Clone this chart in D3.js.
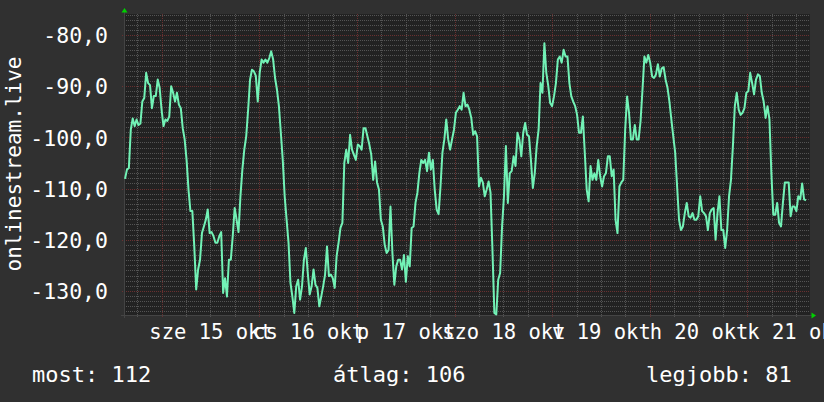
<!DOCTYPE html>
<html><head><meta charset="utf-8">
<script src="https://cdn.jsdelivr.net/npm/d3@7"></script>
<style>html,body{margin:0;padding:0;background:#303030;}svg{display:block}</style>
</head><body>
<svg id="chart" width="824" height="402"></svg>
<script>
const axisTitle = "onlinestream.live";
const yTickValues = [-80, -90, -100, -110, -120, -130];
const dayLabels = ["sze 15 okt", "cs 16 okt", "p 17 okt", "szo 18 okt", "v 19 okt", "h 20 okt", "k 21 okt"];
const dayNoons = ["2025-10-15T12:00", "2025-10-16T12:00", "2025-10-17T12:00", "2025-10-18T12:00", "2025-10-19T12:00", "2025-10-20T12:00", "2025-10-21T12:00"];
const legendTexts = ["most: 112", "átlag: 106", "legjobb: 81"];
const viewRange = ["2025-10-14T14:44", "2025-10-21T15:24"];
const dataRange = ["2025-10-14T14:59", "2025-10-21T14:25"];
const valueRange = [-134.7, -75.9];
const values = [
-108.1,-106.3,-106,-98.5,-96.3,-97.8,-96.5,-97.6,-97.3,-93,
-92.3,-87.4,-89.4,-89.8,-94.3,-91.9,-91.9,-88.7,-90.3,-94.6,
-97.8,-96.5,-96.8,-95.9,-90,-91.3,-93,-91.3,-93.6,-94.3,
-98.2,-100.4,-104.4,-110.2,-114.4,-114.4,-121.3,-129.7,-125.8,-123.9,
-118.7,-117.4,-116.1,-114.1,-118.7,-118.5,-119.3,-120.6,-120.6,-119.3,
-118.5,-130.4,-127.5,-131.1,-123.9,-123.9,-119.3,-113.8,-116.1,-118.5,
-111.5,-106.3,-102.4,-99.8,-94.6,-88.7,-86.8,-87.1,-88,-93,
-87.4,-84.8,-85.4,-84.8,-85.4,-84.5,-83.2,-84.8,-88.4,-90.7,
-93.9,-99.1,-104.4,-111.5,-116.1,-120.6,-128.4,-131.1,-134.3,-129.1,
-127.8,-131.7,-129.1,-123.9,-121.6,-126.5,-130.7,-129.1,-125.8,-128.8,
-129.4,-133,-131.1,-129.1,-126.8,-121.3,-127.1,-126.8,-127.5,-129.4,
-123.2,-120.6,-117.7,-116.7,-105,-102.4,-105,-99.5,-102.4,-103.4,
-104.4,-101.4,-101.7,-102.4,-98.2,-98.2,-99.8,-101.4,
-103.4,-108.3,-104.7,-108.8,-110.2,-116.1,-117.4,-121,-122.6,-122,
-113.5,-122.6,-128.8,-125.2,-123.9,-123.9,-125.8,-123,-128.2,-123.2,
-125.2,-117.7,-117.4,-112.8,-110.8,-107,-104.4,-105,-104.4,-106.6,
-103,-106.3,-104.4,-110.2,-114.1,-115,-109.6,-103,-100.4,-96.5,
-100.4,-102.4,-100.4,-98.5,-95.2,-94.6,-93.9,-94.6,-91.3,-93.9,
-93.6,-94.6,-96.2,-99.5,-98.8,-99.8,-109.6,-107.9,-108.8,-111.5,
-110.2,-108.6,-110.8,-121.9,-134.3,-134.6,-127.8,-126.5,-117.4,-111.5,
-101.7,-112.8,-107,-106.6,-103.7,-105.6,-99.1,-100.4,-103.7,-99.1,
-97.2,-99.5,-99.8,-104.4,-109.9,-107,-101.7,-98.5,-89.4,-91.3,
-81.6,-87.4,-89.9,-93.3,-93.9,-92,-89.4,-84.8,-84.2,-85.4,
-82.9,-84.2,-84.2,-89.4,-92,-93,-93.9,-95.6,-99.1,-99.1,
-95.9,-103,-110.2,-112.5,-105.6,-108.3,-107,-108.3,-104.4,-107.6,
-109.6,-107.6,-107,-103.7,
-103.7,-107.6,-106.3,-116.1,-118.7,-109.6,-108.8,-108.3,-98.5,-92,
-95.2,-100.4,-100.4,-97.6,-100.4,-100.4,-96.8,-90.7,-84.2,-85.4,
-83.9,-85.4,-88.1,-88.4,-87.7,-85.7,-88.1,-86.5,-86.3,-88.7,
-90.3,-93,-96.5,-99.8,-103,-109.6,-116.1,-118.1,-117.4,-114.8,
-112.8,-115.4,-115.7,-114.8,-116.1,-116.1,-115.4,-111.5,-114.4,-114.8,
-115.4,-118.1,-114.8,-114.1,-113.8,-120,-114.8,-111.5,-118.1,-118.1,
-121.6,-118.1,-111.5,-108.3,-101.7,-93.9,-91.3,-94.6,-95.6,-95.2,
-94.3,-91.3,-91,-87.4,-89.4,-91.6,-88.7,-87.7,-88,-91.3,
-93,-96.2,-93.9,-96.5,-107,-115.1,-115.1,-112.8,-116.7,-117.4,
-112.8,-108.8,-108.8,-108.8,-115.4,-113.5,-113.5,-114.4,-111.5,-112.1,
-109,-112.1,-112.3
];

const W = 824, H = 402;
const plot = {left: 124, right: 810, top: 14, bottom: 315};
const svg = d3.select("#chart");
const parse = d3.isoParse;
const loc = d3.formatLocale({decimal: ",", thousands: " ", grouping: [3], currency: ["", ""], minus: "-"});
const fmtY = loc.format(".1f");

svg.append("rect").attr("width", W).attr("height", H).attr("fill", "#303030");

const x = d3.scaleTime().domain(viewRange.map(parse)).range([plot.left, plot.right]);
const y = d3.scaleLinear().domain(valueRange).range([plot.bottom, plot.top]);

const t0 = parse(dataRange[0]).getTime(), t1 = parse(dataRange[1]).getTime();
const idx = d3.scaleLinear().domain([0, values.length - 1]).range([t0, t1]);
const data = values.map((v, i) => ({t: new Date(idx(i)), v}));

svg.append("rect").attr("x", plot.left).attr("y", plot.top)
  .attr("width", plot.right - plot.left).attr("height", plot.bottom - plot.top)
  .attr("fill", "#222222");

const minorY = d3.range(Math.ceil(valueRange[0]), Math.floor(valueRange[1]) + 1).filter(v => v % 10 !== 0);
const g = svg.append("g").attr("shape-rendering", "crispEdges");
g.selectAll(".hmin").data(minorY).join("line")
  .attr("x1", plot.left).attr("x2", plot.right)
  .attr("y1", d => Math.round(y(d)) + 0.5).attr("y2", d => Math.round(y(d)) + 0.5)
  .attr("stroke", "#545454").attr("stroke-dasharray", "1,1");
const xStart = x.domain()[0], xEnd = x.domain()[1];
const sixH = d3.timeHour.every(6).range(xStart, xEnd);
const minorX = sixH.filter(d => d.getHours() !== 0);
const majorX = sixH.filter(d => d.getHours() === 0);
g.selectAll(".vmin").data(minorX).join("line")
  .attr("y1", plot.top).attr("y2", plot.bottom + 3)
  .attr("x1", d => Math.round(x(d)) + 0.5).attr("x2", d => Math.round(x(d)) + 0.5)
  .attr("stroke", "#545454").attr("stroke-dasharray", "1,1");
g.selectAll(".hmaj").data(yTickValues).join("line")
  .attr("x1", plot.left - 2).attr("x2", plot.right)
  .attr("y1", d => Math.round(y(d)) + 0.5).attr("y2", d => Math.round(y(d)) + 0.5)
  .attr("stroke", "#6a3030").attr("stroke-dasharray", "1,1");
g.selectAll(".vmaj").data(majorX).join("line")
  .attr("y1", plot.top).attr("y2", plot.bottom + 3)
  .attr("x1", d => Math.round(x(d)) + 0.5).attr("x2", d => Math.round(x(d)) + 0.5)
  .attr("stroke", "#6a3030").attr("stroke-dasharray", "1,1");

g.append("line").attr("x1", plot.left - 3).attr("x2", plot.right + 2)
  .attr("y1", plot.bottom + 0.5).attr("y2", plot.bottom + 0.5).attr("stroke", "#444");
g.append("line").attr("x1", plot.left + 0.5).attr("x2", plot.left + 0.5)
  .attr("y1", plot.top - 3).attr("y2", plot.bottom + 3).attr("stroke", "#444");

svg.append("path").attr("d", `M${plot.left - 2.5},${plot.top - 1.5} L${plot.left + 3.5},${plot.top - 1.5} L${plot.left + 0.5},${plot.top - 6} Z`).attr("fill", "#00d000");
svg.append("path").attr("d", `M${plot.right + 1.5},${plot.bottom - 2.5} L${plot.right + 1.5},${plot.bottom + 3.5} L${plot.right + 6},${plot.bottom + 0.5} Z`).attr("fill", "#00d000");

const line = d3.line().x(d => x(d.t)).y(d => y(d.v));
svg.append("path").datum(data).attr("d", line)
  .attr("fill", "none").attr("stroke", "#72f2b6").attr("stroke-width", 2)
  .attr("stroke-linejoin", "round");

const yAxis = d3.axisLeft(y).tickValues(yTickValues).tickSize(0).tickPadding(0).tickFormat(fmtY);
const ya = svg.append("g").attr("transform", "translate(108,0)").call(yAxis);
ya.select(".domain").remove();
ya.selectAll("text").attr("fill", "#ffffff").attr("font-family", "DejaVu Sans Mono")
  .attr("font-size", 21.5).attr("dy", "0.36em");

const xAxis = d3.axisBottom(x).tickValues(dayNoons.map(parse)).tickSize(0).tickPadding(0)
  .tickFormat((d, i) => dayLabels[i]);
const xa = svg.append("g").attr("transform", "translate(0,339)").call(xAxis);
xa.select(".domain").remove();
xa.selectAll("text").attr("fill", "#ffffff").attr("font-family", "DejaVu Sans Mono")
  .attr("font-size", 20.5).attr("dy", 0);

svg.append("text").text(axisTitle)
  .attr("transform", "translate(21,164) rotate(-90)")
  .attr("text-anchor", "middle").attr("fill", "#ffffff")
  .attr("font-family", "DejaVu Sans Mono").attr("font-size", 21);

const legendX = [32, 333, 646];
svg.selectAll(".leg").data(legendTexts).join("text")
  .attr("x", (d, i) => legendX[i]).attr("y", 382)
  .attr("fill", "#ffffff").attr("font-family", "DejaVu Sans Mono").attr("font-size", 22)
  .text(d => d);
</script>
</body></html>
